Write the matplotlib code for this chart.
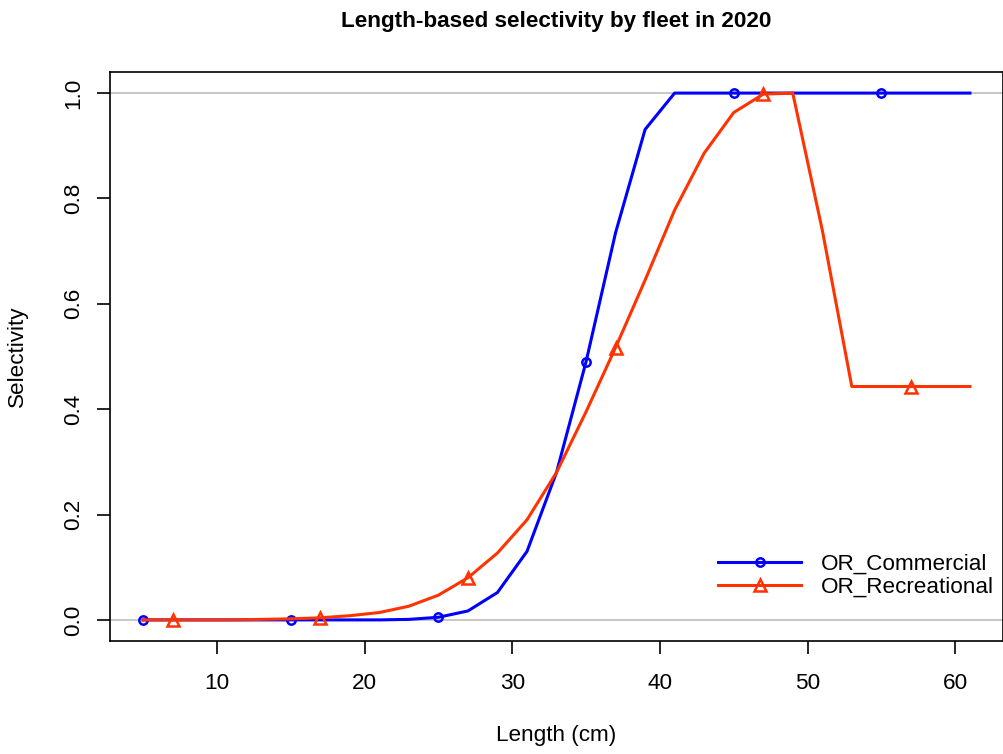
import numpy as np
import matplotlib
matplotlib.use("Agg")
import matplotlib.pyplot as plt

plt.rcParams['font.family'] = ['Liberation Sans', 'DejaVu Sans']

# Length bins (cm) and selectivity at length for each fleet
length = list(range(5, 62, 2))
commercial = [0, 0, 0, 0, 0, 0, 0, 0, 0, 0.001, 0.005, 0.017, 0.052, 0.13,
              0.28, 0.49, 0.735, 0.931, 1.0, 1.0, 1.0, 1.0, 1.0, 1.0, 1.0,
              1.0, 1.0, 1.0, 1.0]
recreational = [0, 0, 0, 0, 0.001, 0.002, 0.004, 0.008, 0.014, 0.026, 0.047,
                0.08, 0.127, 0.19, 0.28, 0.395, 0.517, 0.645, 0.778, 0.886,
                0.963, 0.998, 1.0, 0.74, 0.443, 0.443, 0.443, 0.443, 0.443]
fleets = ['OR_Commercial', 'OR_Recreational']
colors = ['#0000ff', '#ff3300']
markers = ['o', '^']

fs = 16.2

fig = plt.figure(figsize=[10.04, 7.54], dpi=100)
ax = fig.add_axes([0.1096, 0.1499, 0.8894, 0.7546])

ax.axhline(0, color='#bebebe', lw=1.2, zorder=1)
ax.axhline(1, color='#bebebe', lw=1.2, zorder=1)

series = [commercial, recreational]
for i, (name, sel) in enumerate(zip(fleets, series)):
    # markers every 10 cm, offset by one bin for the second fleet
    ax.plot(length, sel, color=colors[i], lw=2.2, marker=markers[i],
            markevery=(i, 5), markersize=6 if i == 0 else 8.5,
            markerfacecolor='none', markeredgewidth=1.8, label=name,
            zorder=3)

ax.set_xlim(2.76, 63.24)
ax.set_ylim(-0.04, 1.04)
ax.set_xticks([10, 20, 30, 40, 50, 60])
ax.set_yticks([0.0, 0.2, 0.4, 0.6, 0.8, 1.0])
ax.set_yticklabels(['0.0', '0.2', '0.4', '0.6', '0.8', '1.0'], rotation=90,
                   va='center')
ax.tick_params(direction='out', length=9.4, width=1.2, labelsize=fs)
ax.tick_params(axis='x', pad=14)
ax.tick_params(axis='y', pad=8.9)
for s in ax.spines.values():
    s.set_linewidth(1.2)

ax.set_xlabel('Length (cm)', fontsize=fs, labelpad=22)
ax.set_ylabel('Selectivity', fontsize=fs, labelpad=26)
ax.set_title('Length-based selectivity by fleet in 2020', fontsize=fs,
             fontweight='bold', pad=32.4)

ax.legend(loc='lower left', bbox_to_anchor=(0.681, 0.0756), frameon=False,
          fontsize=fs, handlelength=3.7, handletextpad=0.85, borderpad=0,
          borderaxespad=0, labelspacing=0.1)

fig.savefig('out.png', dpi=100)
